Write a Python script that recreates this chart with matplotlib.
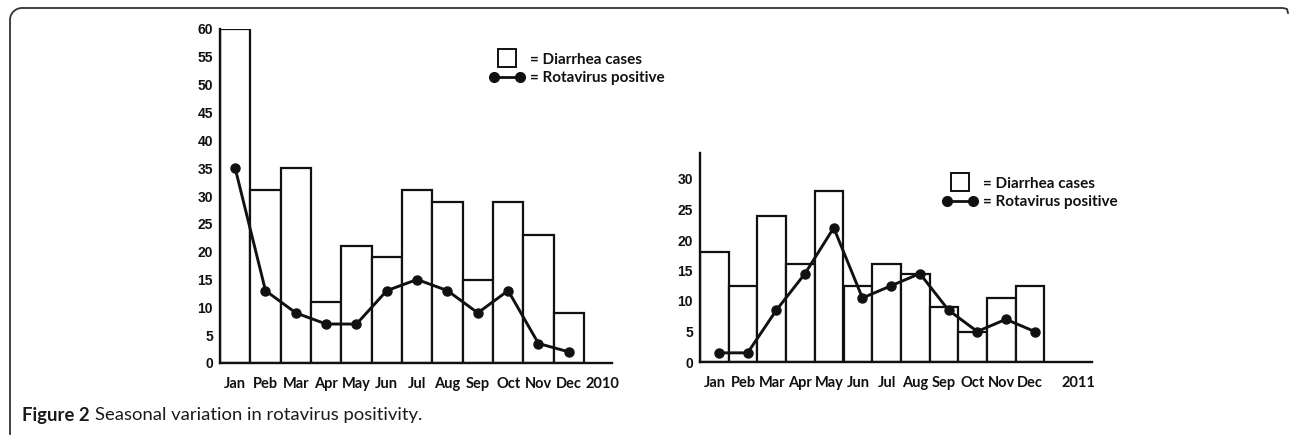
import numpy as np
import matplotlib
matplotlib.use("Agg")
import matplotlib.pyplot as plt
from matplotlib import font_manager
from matplotlib.lines import Line2D
from matplotlib.legend_handler import HandlerLine2D

# data
months = ["Jan", "Peb", "Mar", "Apr", "May", "Jun", "Jul", "Aug", "Sep", "Oct", "Nov", "Dec"]
cases_2010 = [60, 31, 35, 11, 21, 19, 31, 29, 15, 29, 23, 9]
rota_2010 = [35, 13, 9, 7, 7, 13, 15, 13, 9, 13, 3.5, 2]
cases_2011 = [18, 12.5, 24, 16, 28, 12.5, 16, 14.5, 9, 5, 10.5, 12.5]
rota_2011 = [1.5, 1.5, 8.5, 14.5, 22, 10.5, 12.5, 14.5, 8.5, 5, 7, 5]
yticks_2010 = list(range(0, 65, 5))
yticks_2011 = list(range(0, 35, 5))

W, H = 1290, 437
names = {f.name for f in font_manager.fontManager.ttflist}
narrow = "Liberation Sans Narrow" if "Liberation Sans Narrow" in names else "Liberation Sans"
lab_font = "Lato"
ink = "#111111"

fig = plt.figure(figsize=(W / 100, H / 100), dpi=100)
fig.patch.set_facecolor("white")


def px_axes(x0, x1, ytop, ybot):
    return fig.add_axes([x0 / W, 1 - ybot / H, (x1 - x0) / W, (ybot - ytop) / H])


def draw_panel(ax, cases, rota, yticks, ymax, xmax, year, year_pos, shift):
    x = np.arange(len(cases))
    ax.bar(x, cases, width=1.0, facecolor="white", edgecolor=ink, linewidth=1.6, zorder=2)
    ax.plot(x + shift, rota, color=ink, lw=2.1, marker="o", ms=6.5, zorder=3)
    ax.set_xlim(-0.5, xmax)
    ax.set_ylim(0, ymax)
    ax.set_yticks(yticks)
    ax.set_yticklabels([str(v) for v in yticks], fontfamily=narrow,
                       fontweight="bold", fontsize=10, color=ink)
    ax.set_xticks(list(x) + [year_pos])
    ax.set_xticklabels(months + [year], fontfamily=lab_font, fontweight="bold",
                       fontsize=10.5, color=ink)
    ax.tick_params(axis="both", length=0)
    ax.tick_params(axis="x", pad=10)
    ax.tick_params(axis="y", pad=5)
    for s in ("top", "right"):
        ax.spines[s].set_visible(False)
    for s in ("left", "bottom"):
        ax.spines[s].set_linewidth(1.7)
        ax.spines[s].set_color(ink)
    ax.patch.set_alpha(0)


ax1 = px_axes(220, 612, 29, 363)
draw_panel(ax1, cases_2010, rota_2010, yticks_2010, 60, -0.5 + 392 / 30.33, "2010", 12.1, 0)

ax2 = px_axes(700, 1092, 153, 362)
draw_panel(ax2, cases_2011, rota_2011, yticks_2011, 209 / 6.1, -0.5 + 392 / 28.7, "2011", 12.7, 0.16)

# legends
sq = Line2D([], [], ls="none", marker="s", ms=13, mfc="white", mec=ink, mew=1.4)
ln = Line2D([], [], color=ink, lw=2, marker="o", ms=7)
hmap = {sq: HandlerLine2D(numpoints=1), ln: HandlerLine2D(numpoints=2, marker_pad=0)}
for ax_, (lx, ly) in ((ax1, (486, 45)), (ax2, (939, 169))):
    ax_.legend([sq, ln], ["= Diarrhea cases", "= Rotavirus positive"], handler_map=hmap,
               loc="upper left", bbox_to_anchor=(lx / W, 1 - ly / H),
               bbox_transform=fig.transFigure, frameon=False, borderpad=0,
               handlelength=1.75, handletextpad=0.65, labelspacing=0.3,
               prop={"family": lab_font, "weight": "bold", "size": 11},
               labelcolor=ink)

# rounded frame (left and top edges)
r = 12
t = np.linspace(np.pi, np.pi / 2, 20)
arc_x = 10 + r + r * np.cos(t)
arc_y = 8 + r - r * np.sin(t)
fx = np.concatenate([[10], arc_x, [1283, 1287, 1288]])
fy = np.concatenate([[434], arc_y, [8, 9, 13]])
fig.add_artist(Line2D(fx / W, 1 - fy / H, transform=fig.transFigure,
                      color="#333333", lw=1.3))

# caption
t1 = fig.text(22 / W, 1 - 415 / H, "Figure 2", fontfamily=lab_font, fontweight="bold",
              fontsize=13.3, color="#1a1a1a", va="center", ha="left")
renderer = fig.canvas.get_renderer()
bb = t1.get_window_extent(renderer)
fig.text((bb.x1 + 5) / W, 1 - 415 / H, "Seasonal variation in rotavirus positivity.",
         fontfamily=lab_font, fontsize=13.3, color="#1a1a1a", va="center", ha="left")

fig.savefig("out.png", dpi=100)
